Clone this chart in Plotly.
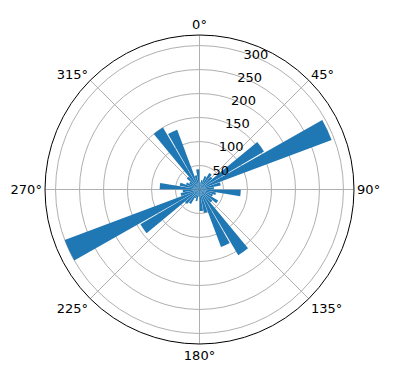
import plotly.graph_objects as go

# bin centres (degrees, compass) and counts
directions = [5, 15, 25, 35, 45, 55, 65, 75, 85, 95, 105, 115,
              125, 135, 145, 155, 165, 175, 185, 195, 205, 215, 225, 235,
              245, 255, 265, 275, 285, 295, 305, 315, 325, 335, 345, 355]
counts = [15, 20, 30, 40, 35, 156, 294, 45, 30, 86, 35, 30,
          45, 35, 159, 128, 50, 45, 15, 25, 20, 35, 40, 143,
          300, 40, 35, 83, 42, 30, 25, 35, 150, 133, 30, 42]
bar_width = 9
angle_ticks = [0, 45, 90, 135, 180, 225, 270, 315]
angle_labels = ["0°", "45°", "90°", "135°", "180°", "225°", "270°", "315°"]
radial_ticks = [50, 100, 150, 200, 250, 300]
radial_labels = ["50", "100", "150", "200", "250", "300"]

fig = go.Figure(go.Barpolar(
    r=counts, theta=directions, width=[bar_width] * len(directions),
    marker=dict(color="#1f77b4", line=dict(width=0)),
))

W, H = 396, 380
cx, cy, R = 199.5, 189.5, 154.5
rad_angle = 75
fig.update_layout(
    width=W, height=H, margin=dict(l=0, r=0, t=0, b=0),
    paper_bgcolor="white", showlegend=False,
    font=dict(family="DejaVu Sans", size=13, color="black"),
    polar=dict(
        bgcolor="white",
        domain=dict(x=[(cx - R) / W, (cx + R) / W],
                    y=[(H - cy - R) / H, (H - cy + R) / H]),
        angularaxis=dict(rotation=90, direction="clockwise",
                         tickvals=angle_ticks, ticktext=angle_labels,
                         showline=True, linecolor="black", linewidth=1,
                         gridcolor="#b0b0b0", gridwidth=0.8, ticks=""),
        radialaxis=dict(range=[0, 322], tickvals=radial_ticks,
                        ticktext=radial_labels, angle=rad_angle,
                        showline=False, ticks="", gridcolor="#b0b0b0",
                        gridwidth=0.8, tickangle=rad_angle),
    ),
)
fig.write_html("out.html")
